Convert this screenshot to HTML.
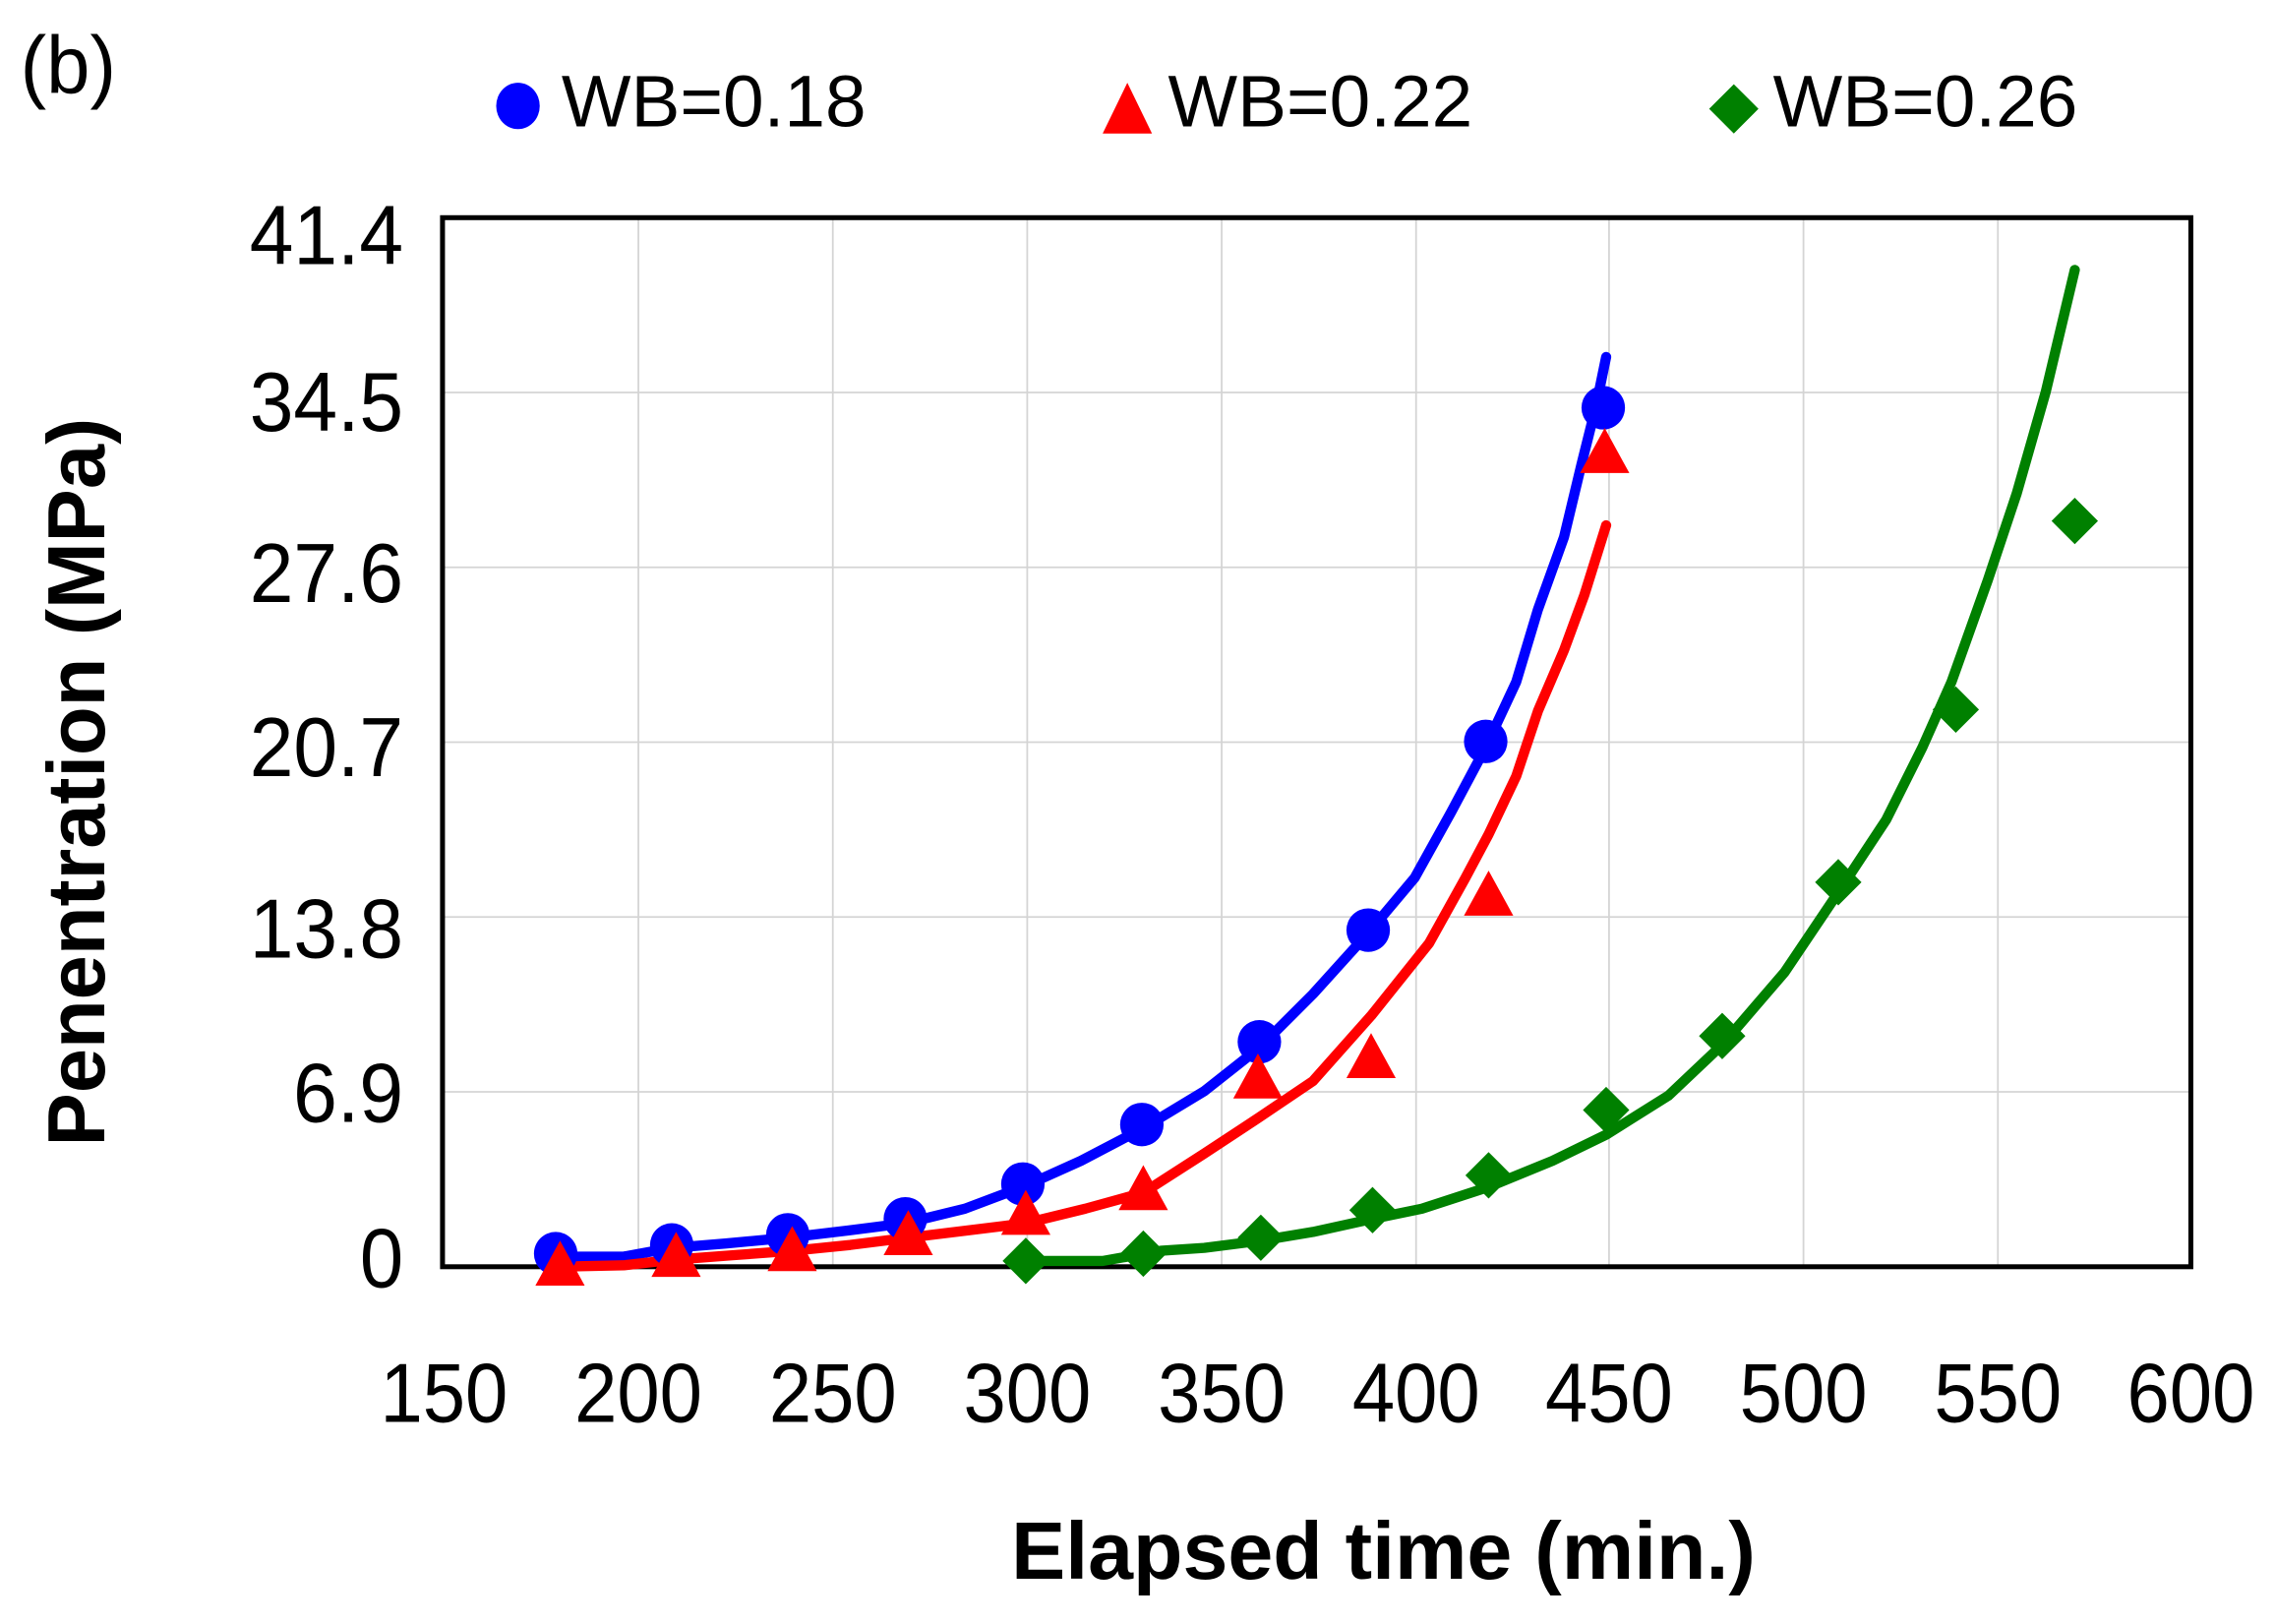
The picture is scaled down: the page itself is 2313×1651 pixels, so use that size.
<!DOCTYPE html>
<html><head><meta charset="utf-8"><style>html,body{margin:0;padding:0;background:#fff}svg{display:block}</style></head>
<body>
<svg width="2313" height="1651" viewBox="0 0 1568 1119.2" xmlns="http://www.w3.org/2000/svg" font-family="Liberation Sans, Arial, sans-serif">
<rect width="1568" height="1120" fill="#fff"/>
<g stroke="#d4d4d4" stroke-width="1.2">
<line x1="440" y1="150" x2="440" y2="873"/><line x1="574" y1="150" x2="574" y2="873"/><line x1="708" y1="150" x2="708" y2="873"/><line x1="842" y1="150" x2="842" y2="873"/><line x1="976" y1="150" x2="976" y2="873"/><line x1="1109" y1="150" x2="1109" y2="873"/><line x1="1243" y1="150" x2="1243" y2="873"/><line x1="1377" y1="150" x2="1377" y2="873"/>
<line x1="305" y1="752.5" x2="1510" y2="752.5"/><line x1="305" y1="632" x2="1510" y2="632"/><line x1="305" y1="511.5" x2="1510" y2="511.5"/><line x1="305" y1="391" x2="1510" y2="391"/><line x1="305" y1="270.5" x2="1510" y2="270.5"/>
</g>
<rect x="305" y="150" width="1205" height="723" fill="none" stroke="#000" stroke-width="3.4"/>
<g font-size="58" fill="#000">
<g text-anchor="end">
<text x="278" y="182" textLength="106" lengthAdjust="spacingAndGlyphs">41.4</text>
<text x="278" y="297" textLength="106" lengthAdjust="spacingAndGlyphs">34.5</text>
<text x="278" y="415" textLength="106" lengthAdjust="spacingAndGlyphs">27.6</text>
<text x="278" y="535" textLength="106" lengthAdjust="spacingAndGlyphs">20.7</text>
<text x="278" y="660" textLength="106" lengthAdjust="spacingAndGlyphs">13.8</text>
<text x="278" y="773" textLength="76" lengthAdjust="spacingAndGlyphs">6.9</text>
<text x="278" y="887" textLength="30" lengthAdjust="spacingAndGlyphs">0</text>
</g>
<g>
<text x="262" y="980" textLength="88" lengthAdjust="spacingAndGlyphs">150</text>
<text x="396" y="980" textLength="88" lengthAdjust="spacingAndGlyphs">200</text>
<text x="530" y="980" textLength="88" lengthAdjust="spacingAndGlyphs">250</text>
<text x="664" y="980" textLength="88" lengthAdjust="spacingAndGlyphs">300</text>
<text x="798" y="980" textLength="88" lengthAdjust="spacingAndGlyphs">350</text>
<text x="932" y="980" textLength="88" lengthAdjust="spacingAndGlyphs">400</text>
<text x="1065" y="980" textLength="88" lengthAdjust="spacingAndGlyphs">450</text>
<text x="1199" y="980" textLength="88" lengthAdjust="spacingAndGlyphs">500</text>
<text x="1333" y="980" textLength="88" lengthAdjust="spacingAndGlyphs">550</text>
<text x="1466" y="980" textLength="88" lengthAdjust="spacingAndGlyphs">600</text>
</g>
</g>
<text x="697" y="1088" font-size="56" font-weight="bold" textLength="513" lengthAdjust="spacingAndGlyphs">Elapsed time (min.)</text>
<text transform="translate(72,790) rotate(-90)" font-size="56" font-weight="bold" textLength="502" lengthAdjust="spacingAndGlyphs">Penentration (MPa)</text>
<text x="14" y="64" font-size="56" textLength="66" lengthAdjust="spacingAndGlyphs">(b)</text>
<ellipse cx="357" cy="73" rx="15" ry="16" fill="#0000ff"/>
<text x="387" y="87" font-size="50" textLength="210" lengthAdjust="spacingAndGlyphs">WB=0.18</text>
<polygon points="777,57 760,92 794,92" fill="#ff0000"/>
<text x="805" y="87" font-size="50" textLength="210" lengthAdjust="spacingAndGlyphs">WB=0.22</text>
<polygon points="1195,58 1212,75 1195,92 1178,75" fill="#008000"/>
<text x="1222" y="87" font-size="50" textLength="210" lengthAdjust="spacingAndGlyphs">WB=0.26</text>
<g fill="none" stroke-width="7" stroke-linejoin="round" stroke-linecap="round">
<polyline stroke="#0000ff" points="383,866 430,866 463,860 500,857 543,853 585,848 624,843 665,833 705,818 745,800 787,778 830,752 868,722 905,685 943,643 975,605 1000,560 1024,515 1045,470 1060,420 1078,370 1090,320 1100,280 1107,246"/>
<polyline stroke="#ff0000" points="383,873 430,872 466,868 506,865 546,862 586,858 626,853 667,848 707,843 748,833 788,822 830,795 868,770 905,745 945,700 985,650 1010,605 1026,575 1045,535 1060,490 1078,448 1092,410 1107,362"/>
<polyline stroke="#008000" points="707,869 760,869 800,862 830,860 869,855 905,849 946,840 980,833 1026,818 1070,800 1107,782 1150,755 1187,720 1230,670 1267,615 1300,565 1325,515 1345,470 1370,400 1390,340 1410,270 1430,186"/>
</g>
<g fill="#0000ff">
<circle cx="383" cy="864" r="15"/><circle cx="463" cy="858" r="15"/><circle cx="543" cy="851" r="15"/><circle cx="624" cy="840" r="15"/><circle cx="705" cy="816" r="15"/><circle cx="787" cy="775" r="15"/><circle cx="868" cy="718" r="15"/><circle cx="943" cy="641" r="15"/><circle cx="1024" cy="511" r="15"/><circle cx="1105" cy="281" r="15"/>
</g>
<g fill="#ff0000">
<polygon points="386,855 369,886 403,886"/><polygon points="466,849 449,880 483,880"/><polygon points="546,845 529,876 563,876"/><polygon points="626,834 609,865 643,865"/><polygon points="707,820 690,851 724,851"/><polygon points="788,803 771,834 805,834"/><polygon points="867,726 850,757 884,757"/><polygon points="945,712 928,743 962,743"/><polygon points="1026,600 1009,631 1043,631"/><polygon points="1106,295 1089,326 1123,326"/>
</g>
<g fill="#008000">
<polygon points="707,853 723,869 707,885 691,869"/><polygon points="788,848 804,864 788,880 772,864"/><polygon points="869,837 885,853 869,869 853,853"/><polygon points="946,818 962,834 946,850 930,834"/><polygon points="1026,794 1042,810 1026,826 1010,810"/><polygon points="1107,749 1123,765 1107,781 1091,765"/><polygon points="1187,698 1203,714 1187,730 1171,714"/><polygon points="1267,592 1283,608 1267,624 1251,608"/><polygon points="1348,473 1364,489 1348,505 1332,489"/><polygon points="1430,343 1446,359 1430,375 1414,359"/>
</g>
</svg>
</body></html>
